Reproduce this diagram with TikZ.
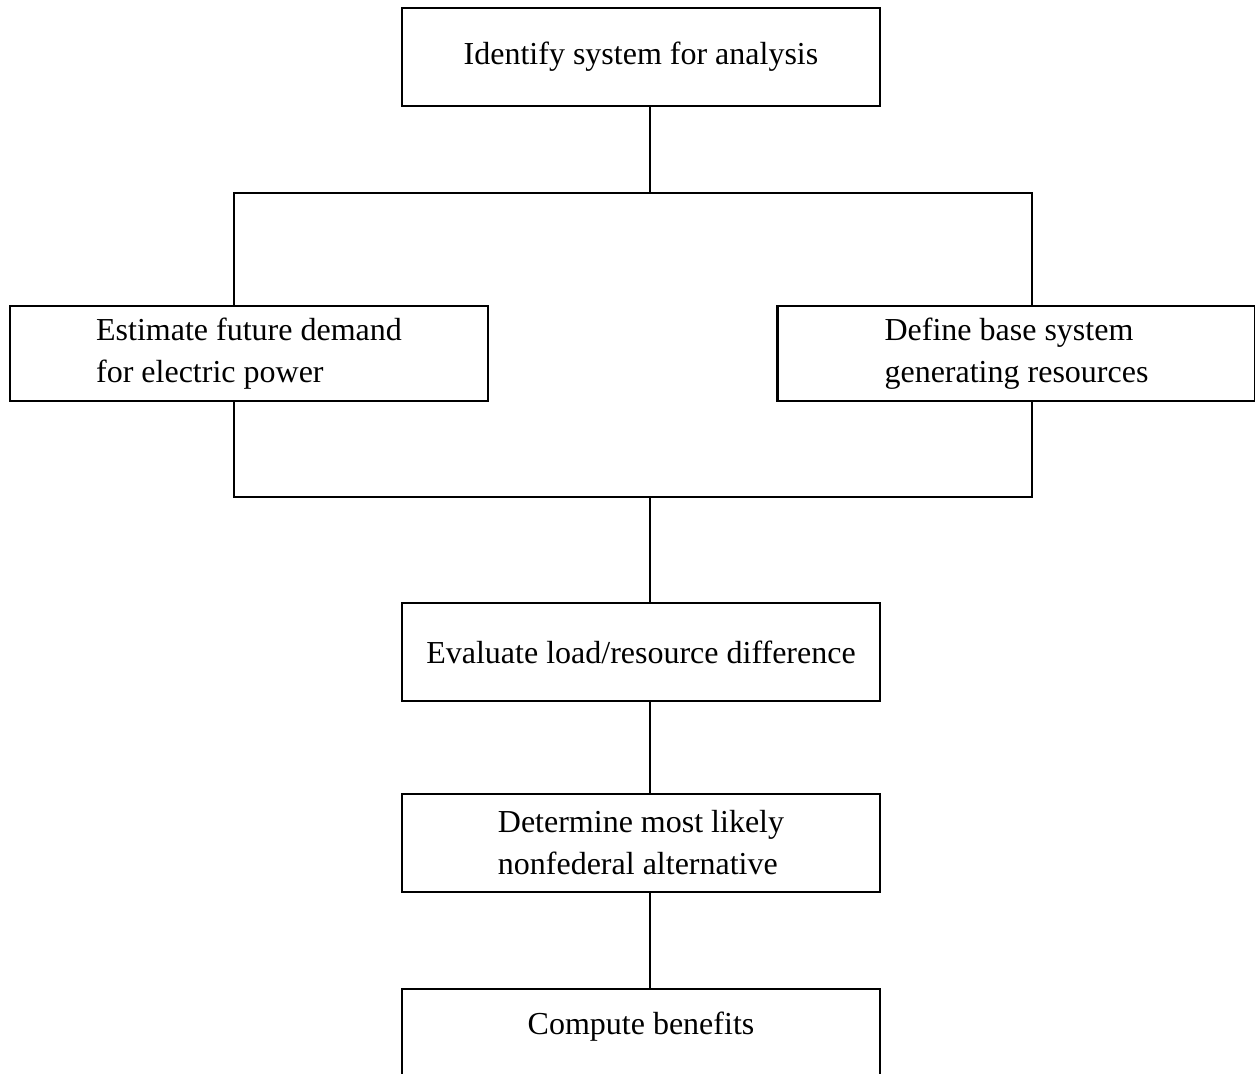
\documentclass[tikz,border=0pt]{standalone}
\usepackage{fontspec}
\setmainfont{Liberation Serif}
\usepackage{tikz}
\usetikzlibrary{positioning}

\begin{document}
\begin{tikzpicture}[node distance=46.5pt,outer sep=0pt,line width=1.1pt,
stepbox/.style={
  draw=black,
  inner sep=0pt,
  minimum width=239pt,
  minimum height=49pt,
  font={\fontsize{16}{21}\selectfont},
  align=center},
twobox/.style={stepbox,minimum height=47.5pt,align=left},
]
\useasboundingbox (0,0) rectangle (627.5pt,-537pt);
\node[stepbox] (ident) at (320.5pt,-28.5pt) {Identify system for analysis};
\node[twobox] (demand) at (124.5pt,-176.75pt) {Estimate future demand\\for electric power};
\node[twobox] (base) at (508.25pt,-176.75pt) {Define base system\\generating resources};
\node[stepbox, below=248.5pt of ident] (eval) {Evaluate load/resource difference};
\node[stepbox, align=left, below=of eval] (alt) {Determine most likely\\nonfederal alternative};
\node[stepbox, text height=11pt, text depth=14pt, below=48.5pt of alt] (ben) {Compute benefits};

% branch points
\coordinate (split) at (325pt,-96.5pt);
\coordinate (merge) at (325pt,-248.5pt);

\draw (ident.south -| split) -- (split);
\draw (demand.north -| 117pt,0) |- (split) -| (base.north -| 516pt,0);
\draw (demand.south -| 117pt,0) |- (merge) -| (base.south -| 516pt,0);
\draw (merge) -- (eval.north -| merge);
\draw (eval.south -| merge) -- (alt.north -| merge);
\draw (alt.south -| merge) -- (ben.north -| merge);
\end{tikzpicture}
\end{document}
